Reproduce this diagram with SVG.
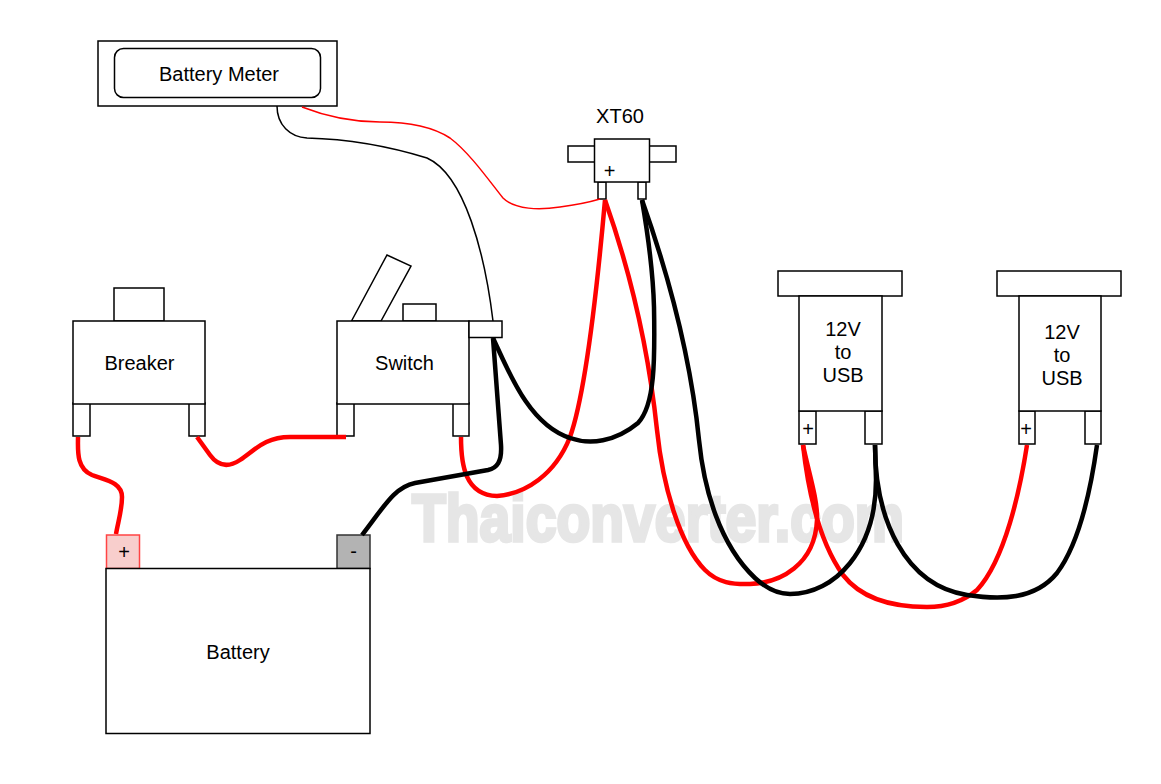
<svg xmlns="http://www.w3.org/2000/svg" width="1161" height="784" viewBox="0 0 1161 784">
<style>
.b{fill:#fff;stroke:#000;stroke-width:1.5}
.t{font-family:"Liberation Sans",Arial,sans-serif;font-size:20px;text-anchor:middle;fill:#000}
.w{fill:none;stroke-linecap:butt;stroke-linejoin:round}
.r{stroke:#f00;stroke-width:4.5}
.k{stroke:#000;stroke-width:4.5}
.rt{stroke:#f00;stroke-width:1.5}
.kt{stroke:#000;stroke-width:1.5}
</style>
<rect width="1161" height="784" fill="#fff"/>
<text x="658" y="541" font-family="'Liberation Sans',Arial,sans-serif" font-size="66" font-weight="bold" fill="#e6e6e6" stroke="#e6e6e6" stroke-width="3.5" text-anchor="middle" textLength="492" lengthAdjust="spacingAndGlyphs">Thaiconverter.com</text>
<g id="meter"><rect class="b" x="98" y="41" width="239" height="65"/><rect class="b" x="114.500" y="48.500" width="206" height="49" rx="9"/><text class="t" x="219" y="81">Battery Meter</text></g>
<g id="xt60"><rect class="b" x="568" y="146" width="27" height="16"/><rect class="b" x="649" y="146" width="27" height="16"/><rect class="b" x="598" y="182" width="8" height="17"/><rect class="b" x="638" y="182" width="8" height="17"/><rect class="b" x="594.500" y="139" width="55" height="43"/><text class="t" x="620" y="123">XT60</text><text class="t" x="609.500" y="178">+</text></g>
<g id="breaker"><rect class="b" x="114" y="288" width="50" height="33"/><rect class="b" x="73" y="403" width="17" height="33"/><rect class="b" x="189" y="403" width="16" height="33"/><rect class="b" x="73" y="321" width="132" height="83"/><text class="t" x="139.500" y="370">Breaker</text></g>
<g id="switch"><path class="b" d="M351.500 321 L387 255 L411 266 L381 321Z"/><rect class="b" x="403" y="304" width="33" height="17"/><rect class="b" x="337" y="403" width="17" height="33"/><rect class="b" x="453" y="403" width="16" height="33"/><rect class="b" x="337" y="321" width="132" height="83"/><rect class="b" x="469" y="321" width="33" height="16.500"/><text class="t" x="404.500" y="370">Switch</text></g>
<g id="battery"><rect x="106.500" y="535" width="33" height="33.500" fill="#f8cecc" stroke="#f44" stroke-width="1.500"/><rect x="337" y="535" width="33" height="33.500" fill="#b3b3b3" stroke="#333" stroke-width="1.500"/><rect class="b" x="106" y="568.500" width="264" height="165"/><text class="t" x="124" y="559">+</text><text class="t" x="353.500" y="558">-</text><text class="t" x="238" y="659">Battery</text></g>
<g id="usb1"><rect class="b" x="778" y="271" width="124" height="25"/><rect class="b" x="799" y="411" width="17" height="33"/><rect class="b" x="865" y="411" width="17" height="33"/><rect class="b" x="799" y="296" width="83" height="115"/><text class="t" x="843" y="336">12V</text><text class="t" x="843" y="359">to</text><text class="t" x="843" y="382">USB</text><text class="t" x="808" y="436">+</text></g>
<g id="usb2"><rect class="b" x="997" y="271" width="124" height="25"/><rect class="b" x="1019" y="411" width="16" height="33"/><rect class="b" x="1085" y="411" width="16" height="33"/><rect class="b" x="1019" y="296" width="82" height="115"/><text class="t" x="1062" y="339">12V</text><text class="t" x="1062" y="362">to</text><text class="t" x="1062" y="385">USB</text><text class="t" x="1026" y="436">+</text></g>
<g id="connectors">
<path class="kt w" d="M277 106 C277 125 290 137 307 138 C345 139 385 145 427 158 C465 175 485 255 493 321"/>
<path class="rt w" d="M302 107 C325 116 350 122 380 122 C405 122 430 125 450 138 C470 153 490 182 503 198 C515 210 540 210 560 207 C575 205 590 202 600 199"/>
<path class="r w" d="M78 437 C78 450 76 468 92 475 C105 480 122 482 122 497 C122 510 118 522 116 534"/>
<path class="r w" d="M197 437 L210 455 C218 466 228 468 240 460 C255 450 265 437 290 437 L346 437"/>
<path class="r w" d="M461 437 C461 465 465 495 497 496 C525 494 555 475 570 437 C585 395 597 290 605 200"/>
<path class="r w" d="M605 200 C628 265 648 345 657 430 C663 487 680 545 705 570 C718 583 733 584.500 750 584 C780 583 815 565 817 520 C818 500 808 470 803 445"/>
<path class="r w" d="M803 445 C808 490 818 540 843 575 C860 597 890 607 927 607 C950 607 965 600 977 590 C1005 560 1020 490 1027 445"/>
<path class="k w" d="M493 338 C510 375 530 425 570 438 C590 445 615 442 638 423 C655 405 655 360 654 307 C653 270 648 235 642 200"/>
<path class="k w" d="M642 200 C665 265 690 350 699 440 C704 490 720 545 755 578 C768 590 780 594 790 594 C835 594 876 550 876 480 L875 445"/>
<path class="k w" d="M875 445 C875 520 905 585 967 595 C1000 600 1035 600 1057 573 C1078 545 1090 495 1097 445"/>
<path class="k w" d="M493 338 L501 445 C502 462 497 468 488 470 L415 483 C395 487 385 505 362 535"/>
</g>
</svg>
